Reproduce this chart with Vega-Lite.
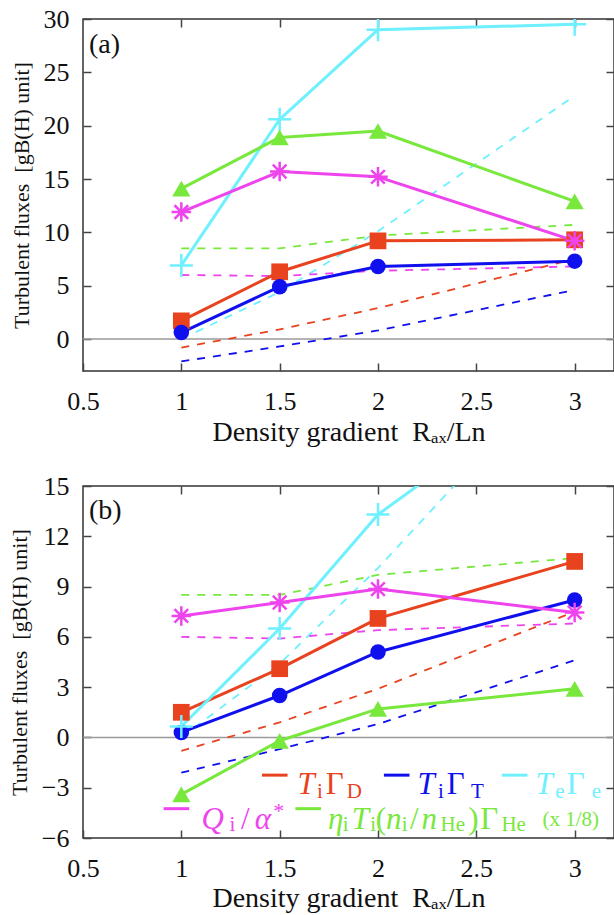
{
  "$schema": "https://vega.github.io/schema/vega-lite/v6.json",
  "padding": {"left": 7, "top": 5, "right": 0, "bottom": 0},
  "background": "white",
  "datasets": {
    "fluxA": [
      {"rax": 1, "flux": 1.7, "series": "D"}, {"rax": 1.5, "flux": 6.3, "series": "D"}, {"rax": 2, "flux": 9.2, "series": "D"}, {"rax": 3, "flux": 9.3, "series": "D"},
      {"rax": 1, "flux": 0.6, "series": "T"}, {"rax": 1.5, "flux": 4.9, "series": "T"}, {"rax": 2, "flux": 6.8, "series": "T"}, {"rax": 3, "flux": 7.3, "series": "T"},
      {"rax": 1, "flux": 6.9, "series": "e"}, {"rax": 1.5, "flux": 20.6, "series": "e"}, {"rax": 2, "flux": 29.0, "series": "e"}, {"rax": 3, "flux": 29.5, "series": "e"},
      {"rax": 1, "flux": 11.9, "series": "Q"}, {"rax": 1.5, "flux": 15.7, "series": "Q"}, {"rax": 2, "flux": 15.2, "series": "Q"}, {"rax": 3, "flux": 9.2, "series": "Q"},
      {"rax": 1, "flux": 14.1, "series": "He"}, {"rax": 1.5, "flux": 18.9, "series": "He"}, {"rax": 2, "flux": 19.5, "series": "He"}, {"rax": 3, "flux": 12.9, "series": "He"}
    ],
    "fluxB": [
      {"rax": 1, "flux": 1.5, "series": "D"}, {"rax": 1.5, "flux": 4.1, "series": "D"}, {"rax": 2, "flux": 7.1, "series": "D"}, {"rax": 3, "flux": 10.5, "series": "D"},
      {"rax": 1, "flux": 0.3, "series": "T"}, {"rax": 1.5, "flux": 2.5, "series": "T"}, {"rax": 2, "flux": 5.1, "series": "T"}, {"rax": 3, "flux": 8.2, "series": "T"},
      {"rax": 1, "flux": 0.65, "series": "e"}, {"rax": 1.5, "flux": 6.5, "series": "e"}, {"rax": 2, "flux": 13.3, "series": "e"}, {"rax": 3, "flux": 21.8, "series": "e"},
      {"rax": 1, "flux": 7.25, "series": "Q"}, {"rax": 1.5, "flux": 8.05, "series": "Q"}, {"rax": 2, "flux": 8.85, "series": "Q"}, {"rax": 3, "flux": 7.45, "series": "Q"},
      {"rax": 1, "flux": -3.4, "series": "He"}, {"rax": 1.5, "flux": -0.2, "series": "He"}, {"rax": 2, "flux": 1.7, "series": "He"}, {"rax": 3, "flux": 2.9, "series": "He"}
    ],
    "ref": [
      {"rax": 1, "flux": -0.8, "series": "D"}, {"rax": 1.5, "flux": 0.9, "series": "D"}, {"rax": 2, "flux": 2.9, "series": "D"}, {"rax": 3, "flux": 7.5, "series": "D"},
      {"rax": 1, "flux": -2.1, "series": "T"}, {"rax": 1.5, "flux": -0.7, "series": "T"}, {"rax": 2, "flux": 0.8, "series": "T"}, {"rax": 3, "flux": 4.6, "series": "T"},
      {"rax": 1, "flux": 0.0, "series": "e"}, {"rax": 1.5, "flux": 4.4, "series": "e"}, {"rax": 2, "flux": 10.1, "series": "e"}, {"rax": 3, "flux": 22.8, "series": "e"},
      {"rax": 1, "flux": 6.0, "series": "Q"}, {"rax": 1.5, "flux": 5.9, "series": "Q"}, {"rax": 2, "flux": 6.4, "series": "Q"}, {"rax": 3, "flux": 6.8, "series": "Q"},
      {"rax": 1, "flux": 8.5, "series": "He"}, {"rax": 1.5, "flux": 8.5, "series": "He"}, {"rax": 2, "flux": 9.7, "series": "He"}, {"rax": 3, "flux": 10.7, "series": "He"}
    ]
  },
  "vconcat": [
    {
      "width": 531,
      "height": 352,
      "data": {"name": "fluxA"},
      "layer": [
        {"data": {"values": [{}]}, "mark": {"type": "rule", "color": "#9a9a9a", "strokeWidth": 1.5}, "encoding": {"y": {"datum": 0, "type": "quantitative", "axis": null}}},
        {
          "data": {"name": "ref"},
          "mark": {"type": "line", "strokeWidth": 1.8, "strokeDash": [8, 8], "clip": true},
          "encoding": {
            "x": {"field": "rax", "type": "quantitative", "scale": {"domain": [0.5, 3.2], "nice": false, "zero": false},
                  "axis": {"orient": "bottom", "values": [0.5, 1, 1.5, 2, 2.5, 3], "format": "~g", "title": "Density gradient\u00a0 Rₐₓ/Ln", "titleFontSize": 28, "labelPadding": 25, "titlePadding": 4}},
            "y": {"field": "flux", "type": "quantitative", "scale": {"domain": [-3, 30], "nice": false, "zero": false},
                  "axis": {"orient": "left", "values": [0, 5, 10, 15, 20, 25, 30], "title": "Turbulent fluxes\u00a0 [gB(H) unit]", "titleFontSize": 22, "labelPadding": 22, "titlePadding": 10}},
            "color": {"field": "series", "type": "nominal", "scale": {"domain": ["D", "T", "e", "Q", "He"], "range": ["#e8421e", "#1010ee", "#6ef0ff", "#ee44ee", "#78e83c"]}, "legend": null}
          }
        },
        {
          "mark": {"type": "line", "strokeWidth": 3, "clip": true, "strokeJoin": "round"},
          "encoding": {
            "x": {"field": "rax", "type": "quantitative", "axis": null},
            "y": {"field": "flux", "type": "quantitative", "axis": null},
            "color": {"field": "series", "type": "nominal", "legend": null}
          }
        },
        {"transform": [{"filter": "datum.series === 'D'"}], "mark": {"type": "point", "shape": "square", "filled": true, "opacity": 1, "size": 280, "color": "#e8421e", "clip": true},
         "encoding": {"x": {"field": "rax", "type": "quantitative", "axis": null}, "y": {"field": "flux", "type": "quantitative", "axis": null}}},
        {"transform": [{"filter": "datum.series === 'T'"}], "mark": {"type": "point", "shape": "circle", "filled": true, "opacity": 1, "size": 240, "color": "#1010ee", "clip": true},
         "encoding": {"x": {"field": "rax", "type": "quantitative", "axis": null}, "y": {"field": "flux", "type": "quantitative", "axis": null}}},
        {"transform": [{"filter": "datum.series === 'e'"}], "mark": {"type": "point", "shape": "M-1,0H1M0,-1V1", "filled": false, "opacity": 1, "size": 530, "strokeWidth": 2.5, "color": "#6ef0ff", "clip": true},
         "encoding": {"x": {"field": "rax", "type": "quantitative", "axis": null}, "y": {"field": "flux", "type": "quantitative", "axis": null}}},
        {"transform": [{"filter": "datum.series === 'Q'"}], "mark": {"type": "point", "shape": "M-1,0H1M0,-1V1M-0.7,-0.7L0.7,0.7M-0.7,0.7L0.7,-0.7", "filled": false, "opacity": 1, "size": 380, "strokeWidth": 2.5, "color": "#ee44ee", "clip": true},
         "encoding": {"x": {"field": "rax", "type": "quantitative", "axis": null}, "y": {"field": "flux", "type": "quantitative", "axis": null}}},
        {"transform": [{"filter": "datum.series === 'He'"}], "mark": {"type": "point", "shape": "triangle-up", "filled": true, "opacity": 1, "size": 330, "color": "#78e83c", "clip": true},
         "encoding": {"x": {"field": "rax", "type": "quantitative", "axis": null}, "y": {"field": "flux", "type": "quantitative", "axis": null}}},
        {
          "data": {"values": [{}]},
          "mark": {"type": "text", "text": "(a)", "fontSize": 28, "align": "left", "baseline": "middle", "color": "#111"},
          "encoding": {
            "x": {"datum": 0.53, "type": "quantitative", "axis": {"orient": "top", "values": [1, 1.5, 2, 2.5, 3], "labels": false, "title": null}},
            "y": {"datum": 27.6, "type": "quantitative", "axis": {"orient": "right", "values": [0, 5, 10, 15, 20, 25, 30], "labels": false, "title": null}}
          }
        }
      ],
      "resolve": {"axis": {"x": "independent", "y": "independent"}}
    },
    {
      "width": 531,
      "height": 352,
      "data": {"name": "fluxB"},
      "layer": [
        {"data": {"values": [{}]}, "mark": {"type": "rule", "color": "#9a9a9a", "strokeWidth": 1.5}, "encoding": {"y": {"datum": 0, "type": "quantitative", "axis": null}}},
        {
          "data": {"name": "ref"},
          "mark": {"type": "line", "strokeWidth": 1.8, "strokeDash": [8, 8], "clip": true},
          "encoding": {
            "x": {"field": "rax", "type": "quantitative", "scale": {"domain": [0.5, 3.2], "nice": false, "zero": false},
                  "axis": {"orient": "bottom", "values": [0.5, 1, 1.5, 2, 2.5, 3], "format": "~g", "title": "Density gradient\u00a0 Rₐₓ/Ln", "titleFontSize": 28, "labelPadding": 25, "titlePadding": 3}},
            "y": {"field": "flux", "type": "quantitative", "scale": {"domain": [-6, 15], "nice": false, "zero": false},
                  "axis": {"orient": "left", "values": [-6, -3, 0, 3, 6, 9, 12, 15], "title": "Turbulent fluxes\u00a0 [gB(H) unit]", "titleFontSize": 22, "labelPadding": 22, "titlePadding": 10}},
            "color": {"field": "series", "type": "nominal", "scale": {"domain": ["D", "T", "e", "Q", "He"], "range": ["#e8421e", "#1010ee", "#6ef0ff", "#ee44ee", "#78e83c"]}, "legend": null}
          }
        },
        {
          "mark": {"type": "line", "strokeWidth": 3, "clip": true, "strokeJoin": "round"},
          "encoding": {
            "x": {"field": "rax", "type": "quantitative", "axis": null},
            "y": {"field": "flux", "type": "quantitative", "axis": null},
            "color": {"field": "series", "type": "nominal", "legend": null}
          }
        },
        {"transform": [{"filter": "datum.series === 'D'"}], "mark": {"type": "point", "shape": "square", "filled": true, "opacity": 1, "size": 280, "color": "#e8421e", "clip": true},
         "encoding": {"x": {"field": "rax", "type": "quantitative", "axis": null}, "y": {"field": "flux", "type": "quantitative", "axis": null}}},
        {"transform": [{"filter": "datum.series === 'T'"}], "mark": {"type": "point", "shape": "circle", "filled": true, "opacity": 1, "size": 240, "color": "#1010ee", "clip": true},
         "encoding": {"x": {"field": "rax", "type": "quantitative", "axis": null}, "y": {"field": "flux", "type": "quantitative", "axis": null}}},
        {"transform": [{"filter": "datum.series === 'e'"}], "mark": {"type": "point", "shape": "M-1,0H1M0,-1V1", "filled": false, "opacity": 1, "size": 530, "strokeWidth": 2.5, "color": "#6ef0ff", "clip": true},
         "encoding": {"x": {"field": "rax", "type": "quantitative", "axis": null}, "y": {"field": "flux", "type": "quantitative", "axis": null}}},
        {"transform": [{"filter": "datum.series === 'Q'"}], "mark": {"type": "point", "shape": "M-1,0H1M0,-1V1M-0.7,-0.7L0.7,0.7M-0.7,0.7L0.7,-0.7", "filled": false, "opacity": 1, "size": 380, "strokeWidth": 2.5, "color": "#ee44ee", "clip": true},
         "encoding": {"x": {"field": "rax", "type": "quantitative", "axis": null}, "y": {"field": "flux", "type": "quantitative", "axis": null}}},
        {"transform": [{"filter": "datum.series === 'He'"}], "mark": {"type": "point", "shape": "triangle-up", "filled": true, "opacity": 1, "size": 330, "color": "#78e83c", "clip": true},
         "encoding": {"x": {"field": "rax", "type": "quantitative", "axis": null}, "y": {"field": "flux", "type": "quantitative", "axis": null}}},
        {
          "data": {"values": [{}]},
          "layer": [
            {"mark": {"type": "rule", "color": "#e8421e", "strokeWidth": 3}, "encoding": {"x": {"datum": 1.41, "axis": null}, "x2": {"datum": 1.54}, "y": {"datum": -2.25, "axis": null}}},
            {"mark": {"type": "text", "text": "T", "fontSize": 31, "fontStyle": "italic", "color": "#e8421e", "align": "center"}, "encoding": {"x": {"datum": 1.635, "axis": null}, "y": {"datum": -2.85, "axis": null}}},
            {"mark": {"type": "text", "text": "i", "fontSize": 21, "color": "#e8421e", "align": "center"}, "encoding": {"x": {"datum": 1.705, "axis": null}, "y": {"datum": -3.25, "axis": null}}},
            {"mark": {"type": "text", "text": "Γ", "fontSize": 31, "color": "#e8421e", "align": "center"}, "encoding": {"x": {"datum": 1.78, "axis": null}, "y": {"datum": -2.85, "axis": null}}},
            {"mark": {"type": "text", "text": "D", "fontSize": 21, "color": "#e8421e", "align": "center"}, "encoding": {"x": {"datum": 1.88, "axis": null}, "y": {"datum": -3.25, "axis": null}}},

            {"mark": {"type": "rule", "color": "#1010ee", "strokeWidth": 3}, "encoding": {"x": {"datum": 2.03, "axis": null}, "x2": {"datum": 2.16}, "y": {"datum": -2.25, "axis": null}}},
            {"mark": {"type": "text", "text": "T", "fontSize": 31, "fontStyle": "italic", "color": "#1010ee", "align": "center"}, "encoding": {"x": {"datum": 2.245, "axis": null}, "y": {"datum": -2.85, "axis": null}}},
            {"mark": {"type": "text", "text": "i", "fontSize": 21, "color": "#1010ee", "align": "center"}, "encoding": {"x": {"datum": 2.32, "axis": null}, "y": {"datum": -3.25, "axis": null}}},
            {"mark": {"type": "text", "text": "Γ", "fontSize": 31, "color": "#1010ee", "align": "center"}, "encoding": {"x": {"datum": 2.395, "axis": null}, "y": {"datum": -2.85, "axis": null}}},
            {"mark": {"type": "text", "text": "T", "fontSize": 21, "color": "#1010ee", "align": "center"}, "encoding": {"x": {"datum": 2.505, "axis": null}, "y": {"datum": -3.25, "axis": null}}},

            {"mark": {"type": "rule", "color": "#6ef0ff", "strokeWidth": 3}, "encoding": {"x": {"datum": 2.63, "axis": null}, "x2": {"datum": 2.76}, "y": {"datum": -2.25, "axis": null}}},
            {"mark": {"type": "text", "text": "T", "fontSize": 31, "fontStyle": "italic", "color": "#6ef0ff", "align": "center"}, "encoding": {"x": {"datum": 2.845, "axis": null}, "y": {"datum": -2.85, "axis": null}}},
            {"mark": {"type": "text", "text": "e", "fontSize": 21, "color": "#6ef0ff", "align": "center"}, "encoding": {"x": {"datum": 2.925, "axis": null}, "y": {"datum": -3.25, "axis": null}}},
            {"mark": {"type": "text", "text": "Γ", "fontSize": 31, "color": "#6ef0ff", "align": "center"}, "encoding": {"x": {"datum": 3.005, "axis": null}, "y": {"datum": -2.85, "axis": null}}},
            {"mark": {"type": "text", "text": "e", "fontSize": 21, "color": "#6ef0ff", "align": "center"}, "encoding": {"x": {"datum": 3.11, "axis": null}, "y": {"datum": -3.25, "axis": null}}},

            {"mark": {"type": "rule", "color": "#ee44ee", "strokeWidth": 3}, "encoding": {"x": {"datum": 0.91, "axis": null}, "x2": {"datum": 1.04}, "y": {"datum": -4.25, "axis": null}}},
            {"mark": {"type": "text", "text": "Q", "fontSize": 31, "fontStyle": "italic", "color": "#ee44ee", "align": "center"}, "encoding": {"x": {"datum": 1.16, "axis": null}, "y": {"datum": -4.9, "axis": null}}},
            {"mark": {"type": "text", "text": "i", "fontSize": 21, "color": "#ee44ee", "align": "center"}, "encoding": {"x": {"datum": 1.26, "axis": null}, "y": {"datum": -5.25, "axis": null}}},
            {"mark": {"type": "text", "text": "/", "fontSize": 31, "color": "#ee44ee", "align": "center"}, "encoding": {"x": {"datum": 1.325, "axis": null}, "y": {"datum": -4.9, "axis": null}}},
            {"mark": {"type": "text", "text": "α", "fontSize": 31, "fontStyle": "italic", "color": "#ee44ee", "align": "center"}, "encoding": {"x": {"datum": 1.415, "axis": null}, "y": {"datum": -4.9, "axis": null}}},
            {"mark": {"type": "text", "text": "*", "fontSize": 22, "color": "#ee44ee", "align": "center"}, "encoding": {"x": {"datum": 1.495, "axis": null}, "y": {"datum": -4.4, "axis": null}}},

            {"mark": {"type": "rule", "color": "#78e83c", "strokeWidth": 3}, "encoding": {"x": {"datum": 1.58, "axis": null}, "x2": {"datum": 1.71}, "y": {"datum": -4.25, "axis": null}}},
            {"mark": {"type": "text", "text": "η", "fontSize": 31, "fontStyle": "italic", "color": "#78e83c", "align": "center"}, "encoding": {"x": {"datum": 1.785, "axis": null}, "y": {"datum": -4.9, "axis": null}}},
            {"mark": {"type": "text", "text": "i", "fontSize": 21, "color": "#78e83c", "align": "center"}, "encoding": {"x": {"datum": 1.835, "axis": null}, "y": {"datum": -5.25, "axis": null}}},
            {"mark": {"type": "text", "text": "T", "fontSize": 31, "fontStyle": "italic", "color": "#78e83c", "align": "center"}, "encoding": {"x": {"datum": 1.91, "axis": null}, "y": {"datum": -4.9, "axis": null}}},
            {"mark": {"type": "text", "text": "i", "fontSize": 21, "color": "#78e83c", "align": "center"}, "encoding": {"x": {"datum": 1.975, "axis": null}, "y": {"datum": -5.25, "axis": null}}},
            {"mark": {"type": "text", "text": "(", "fontSize": 31, "color": "#78e83c", "align": "center"}, "encoding": {"x": {"datum": 2.015, "axis": null}, "y": {"datum": -4.9, "axis": null}}},
            {"mark": {"type": "text", "text": "n", "fontSize": 31, "fontStyle": "italic", "color": "#78e83c", "align": "center"}, "encoding": {"x": {"datum": 2.08, "axis": null}, "y": {"datum": -4.9, "axis": null}}},
            {"mark": {"type": "text", "text": "i", "fontSize": 21, "color": "#78e83c", "align": "center"}, "encoding": {"x": {"datum": 2.135, "axis": null}, "y": {"datum": -5.25, "axis": null}}},
            {"mark": {"type": "text", "text": "/", "fontSize": 31, "color": "#78e83c", "align": "center"}, "encoding": {"x": {"datum": 2.185, "axis": null}, "y": {"datum": -4.9, "axis": null}}},
            {"mark": {"type": "text", "text": "n", "fontSize": 31, "fontStyle": "italic", "color": "#78e83c", "align": "center"}, "encoding": {"x": {"datum": 2.26, "axis": null}, "y": {"datum": -4.9, "axis": null}}},
            {"mark": {"type": "text", "text": "He", "fontSize": 21, "color": "#78e83c", "align": "center"}, "encoding": {"x": {"datum": 2.38, "axis": null}, "y": {"datum": -5.25, "axis": null}}},
            {"mark": {"type": "text", "text": ")", "fontSize": 31, "color": "#78e83c", "align": "center"}, "encoding": {"x": {"datum": 2.485, "axis": null}, "y": {"datum": -4.9, "axis": null}}},
            {"mark": {"type": "text", "text": "Γ", "fontSize": 31, "color": "#78e83c", "align": "center"}, "encoding": {"x": {"datum": 2.565, "axis": null}, "y": {"datum": -4.9, "axis": null}}},
            {"mark": {"type": "text", "text": "He", "fontSize": 21, "color": "#78e83c", "align": "center"}, "encoding": {"x": {"datum": 2.69, "axis": null}, "y": {"datum": -5.25, "axis": null}}},
            {"mark": {"type": "text", "text": "(x 1/8)", "fontSize": 21, "color": "#78e83c", "align": "center"}, "encoding": {"x": {"datum": 2.98, "axis": null}, "y": {"datum": -4.95, "axis": null}}}
          ]
        },
        {
          "data": {"values": [{}]},
          "mark": {"type": "text", "text": "(b)", "fontSize": 28, "align": "left", "baseline": "middle", "color": "#111"},
          "encoding": {
            "x": {"datum": 0.53, "type": "quantitative", "axis": {"orient": "top", "values": [1, 1.5, 2, 2.5, 3], "labels": false, "title": null}},
            "y": {"datum": 13.5, "type": "quantitative", "axis": {"orient": "right", "values": [-6, -3, 0, 3, 6, 9, 12, 15], "labels": false, "title": null}}
          }
        }
      ],
      "resolve": {"axis": {"x": "independent", "y": "independent"}}
    }
  ],
  "spacing": 25,
  "config": {
    "view": {"stroke": "#333", "strokeWidth": 1.5},
    "font": "Liberation Serif, Times New Roman, serif",
    "text": {"font": "Liberation Serif, Times New Roman, serif"},
    "axis": {
      "domain": false,
      "grid": false,
      "tickColor": "#444",
      "tickWidth": 1.5,
      "tickSize": -8,
      "labelFont": "Liberation Serif, Times New Roman, serif",
      "labelFontSize": 26,
      "labelColor": "#111",
      "labelFlush": false,
      "labelOverlap": false,
      "titleFont": "Liberation Serif, Times New Roman, serif",
      "titleFontWeight": "normal",
      "titleColor": "#111"
    }
  }
}
